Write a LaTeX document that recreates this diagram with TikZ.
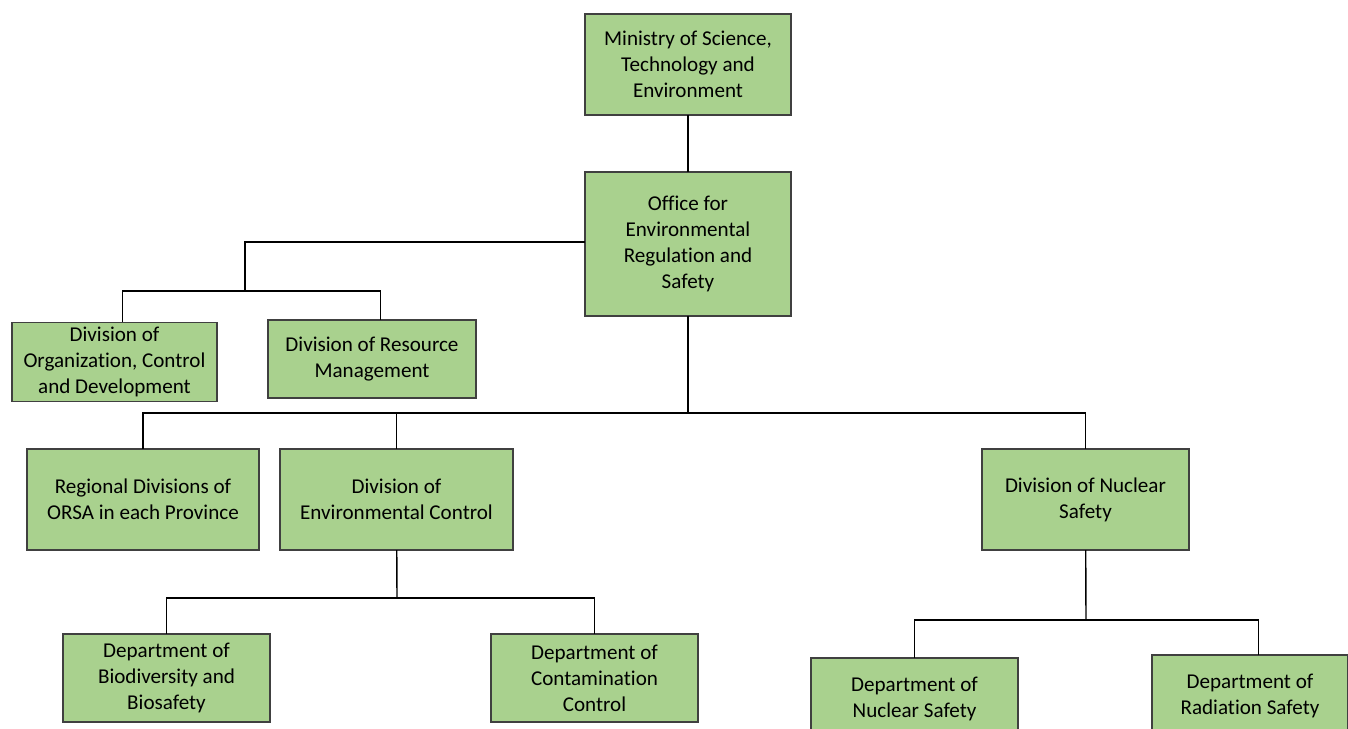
\documentclass[tikz,border=0pt]{standalone}
\usepackage{fontspec}
\setmainfont{Carlito}[Ligatures={NoCommon}]
\usepackage{tikz}
\definecolor{boxgreen}{HTML}{A9D18E}

\begin{document}
\begin{tikzpicture}[x=0.025cm, y=-0.025cm,
    every node/.style={font=\fontsize{15}{18.5}\selectfont},
    box/.style={draw=black!75, line width=0.8pt, fill=boxgreen, align=center, inner sep=0pt, outer sep=0pt},
    link/.style={line width=1pt, black}]
  \useasboundingbox (0,0) rectangle (1348,729);
  \clip (0,0) rectangle (1348,729);
  % top levels
  \node[box, minimum width=5.15cm, minimum height=2.525cm] (min) at (688,64.5) {Ministry of Science,\\Technology and\\Environment};
  \node[box, minimum width=5.15cm, minimum height=3.6cm] (off) at (688,244) {Office for\\Environmental\\Regulation and\\Safety};
  % staff divisions
  \node[box, minimum width=5.125cm, minimum height=1.975cm] (dorg) at (114.5,362) {Division of\\Organization, Control\\and Development};
  \node[box, minimum width=5.2cm, minimum height=1.95cm] (dres) at (372,359) {Division of Resource\\Management};
  % line divisions
  \node[box, minimum width=5.8cm, minimum height=2.525cm] (reg) at (143,499.5) {Regional Divisions of\\ORSA in each Province};
  \node[box, minimum width=5.825cm, minimum height=2.525cm] (denv) at (396.5,499.5) {Division of\\Environmental Control};
  \node[box, minimum width=5.175cm, minimum height=2.525cm] (dnuc) at (1085.5,499.5) {Division of Nuclear\\Safety};
  % departments
  \node[box, minimum width=5.175cm, minimum height=2.2cm] (dbio) at (166.5,678) {Department of\\Biodiversity and\\Biosafety};
  \node[box, minimum width=5.175cm, minimum height=2.2cm] (dcon) at (594.5,678) {Department of\\Contamination\\Control};
  \node[box, minimum width=5.175cm, minimum height=2.05cm] (dnsf) at (914.5,699) {Department of\\Nuclear Safety};
  \node[box, minimum width=4.9cm, minimum height=2.05cm] (drad) at (1250,696) {Department of\\Radiation Safety};
  % junctions
  \coordinate (ja) at (245,291);
  \coordinate (jb) at (688,413);
  \coordinate (jc) at (397,598);
  \coordinate (jd) at (1086,620);
  % connectors
  \draw[link] (min) -- (off);
  \draw[link] (off.west |- 0,242) -| (ja);
  \draw[link] ([xshift=5.5]dorg.north) |- (ja) -| ([xshift=6]dres.north);
  \draw[link] (off) -- (jb);
  \draw[link] (reg) |- (jb) -| (dnuc);
  \draw[link] (denv) -- (denv |- jb);
  \draw[link] (denv) -- (jc);
  \draw[link] (dbio) |- (jc) -| (dcon);
  \draw[link] (dnuc) -- (jd);
  \draw[link] (dnsf) |- (jd) -| ([xshift=6]drad.north);
\end{tikzpicture}
\end{document}
